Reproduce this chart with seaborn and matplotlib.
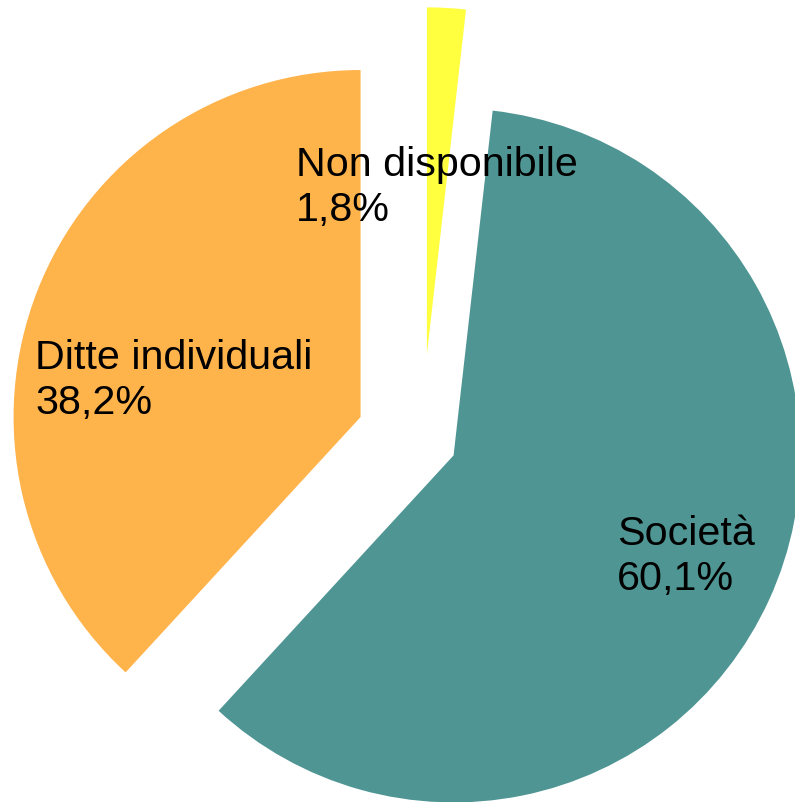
import matplotlib
matplotlib.use("Agg")
import matplotlib.pyplot as plt
import seaborn as sns

categories = ["Non disponibile", "Società", "Ditte individuali"]
values = [1.8, 60.1, 38.2]
value_labels = ["1,8%", "60,1%", "38,2%"]
colors = ["#ffff40", "#4e9593", "#ffb34b"]
explode = [0.25, 0.10, 0.19]

sns.set_style("white")
plt.rcParams["font.family"] = ["Liberation Sans", "DejaVu Sans"]

W, H = 795, 803
R = 347.0          # pie radius in pixels
CX, CY = 422.0, 442.0  # pie centre in pixels (y from top)

fig = plt.figure(figsize=(W / 100, H / 100), dpi=100)
ax = fig.add_axes([0, 0, 1, 1])
ax.pie(values, colors=colors, explode=explode, startangle=90,
       counterclock=False, radius=1.0,
       wedgeprops=dict(linewidth=0, antialiased=True))
ax.set_xlim(-CX / R, (W - CX) / R)
ax.set_ylim(-(H - CY) / R, CY / R)
ax.set_aspect("auto")
ax.axis("off")

def px(x, y):
    return (x - CX) / R, (CY - y) / R

label_pos = {
    "Non disponibile": (296, 146),
    "Società": (617, 515),
    "Ditte individuali": (35, 339),
}
for cat, lab in zip(categories, value_labels):
    x, y = px(*label_pos[cat])
    ax.text(x, y, f"{cat}\n{lab}", ha="left", va="top", fontsize=29.7,
            color="black", linespacing=1.22)

fig.savefig("out.png", dpi=100, facecolor="white")
